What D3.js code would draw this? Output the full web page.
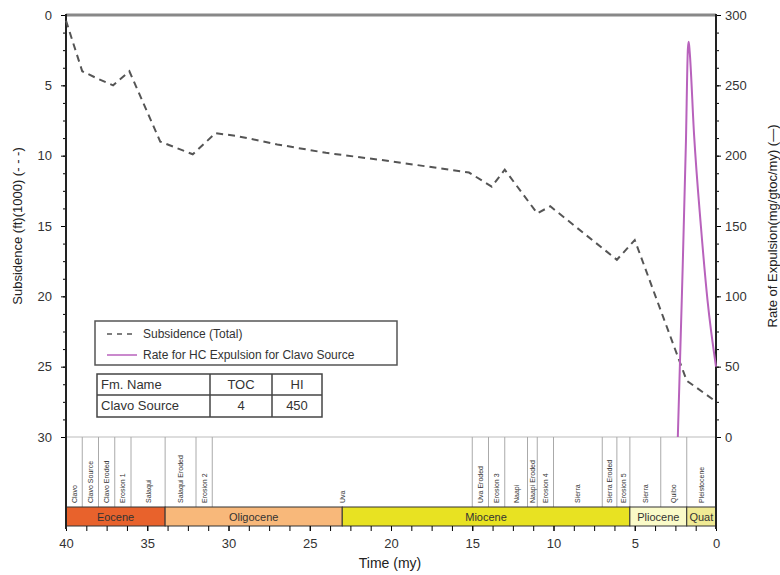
<!DOCTYPE html>
<html lang="en">
<head>
<meta charset="UTF-8">
<title>Burial history - Clavo Source</title>
<script src="https://cdn.jsdelivr.net/npm/d3@7"></script>
<style>
    body { margin: 0; background: #fff; }
    svg { font-family: "Liberation Sans", Arial, sans-serif; }
</style>
</head>
<body>
<svg width="780" height="575"></svg>
<script>
    // subsidence (total), [age my, depth ft x1000]
    const subsidence = [
        [40, 0.4], [39, 4.0], [38.1, 4.5], [37.1, 5.0], [36.1, 4.0], [34.2, 9.0],
        [32.2, 9.9], [30.8, 8.4], [29.5, 8.6], [27, 9.2], [24, 9.8], [20, 10.4],
        [15.2, 11.2], [13.8, 12.2], [13.0, 11.0], [11, 14.1], [10.2, 13.6],
        [6.1, 17.4], [5.0, 16.0], [1.8, 26.0], [0.1, 27.4]
    ];
    // rate of HC expulsion, [age my, mg/gtoc/my]
    const expulsion = [
        [2.35, 0], [2.1, 100], [1.85, 210], [1.73, 276], [1.68, 281], [1.62, 274],
        [1.35, 215], [0.93, 150], [0.52, 97], [0, 50]
    ];
    // formations, [start, end, name]
    const formations = [
        [40, 39, "Clavo"], [39, 38, "Clavo Source"], [38, 37, "Clavo Eroded"],
        [37, 36, "Erosion 1"], [36, 33.9, "Salaqui"], [33.9, 32, "Salaqui Eroded"],
        [32, 31, "Erosion 2"], [31, 15, "Uva"], [15, 14, "Uva Eroded"],
        [14, 13, "Erosion 3"], [13, 11.6, "Naapi"], [11.6, 11, "Naapi Eroded"],
        [11, 10, "Erosion 4"], [10, 7, "Sierra"], [7, 6.1, "Sierra Eroded"],
        [6.1, 5.3, "Erosion 5"], [5.3, 3.4, "Sierra"], [3.4, 1.8, "Quibo"],
        [1.8, 0, "Pleistocene"]
    ];
    // epochs, [start, end, name, colour]
    const epochs = [
        [40, 33.9, "Eocene", "#e8622c"], [33.9, 23, "Oligocene", "#f8b87a"],
        [23, 5.3, "Miocene", "#e8e222"], [5.3, 1.8, "Pliocene", "#fafac8"],
        [1.8, 0, "Quat", "#f0ea94"]
    ];
    const tableHead = ["Fm. Name", "TOC", "HI"];
    const tableRow = ["Clavo Source", "4", "450"];

    const svg = d3.select("svg");
    const pL = 66, pR = 716, pT = 15, pB = 437;
    const stripTop = 507, stripBot = 526;

    const x = d3.scaleLinear().domain([40, 0]).range([pL, pR]);
    const yL = d3.scaleLinear().domain([0, 30]).range([pT, pB]);
    const yR = d3.scaleLinear().domain([0, 300]).range([pB, pT]);

    // plot frame
    svg.append("line").attr("x1", pL).attr("x2", pR).attr("y1", pT).attr("y2", pT)
        .attr("stroke", "#888").attr("stroke-width", 3);
    svg.append("line").attr("x1", pL).attr("x2", pR).attr("y1", pB).attr("y2", pB)
        .attr("stroke", "#bbb").attr("stroke-width", 1);

    // formation strip
    const fm = svg.append("g");
    fm.selectAll("line").data(formations.slice(1)).join("line")
        .attr("x1", d => x(d[0])).attr("x2", d => x(d[0]))
        .attr("y1", pB).attr("y2", stripTop)
        .attr("stroke", "#aaa");
    fm.selectAll("text").data(formations).join("text")
        .attr("transform", d => `translate(${x((d[0] + d[1]) / 2) + 2.5},${stripTop - 4}) rotate(-90)`)
        .attr("font-size", 7).attr("fill", "#333")
        .text(d => d[2]);

    // epoch bar
    const ep = svg.append("g");
    ep.selectAll("rect").data(epochs).join("rect")
        .attr("x", d => x(d[0])).attr("width", d => x(d[1]) - x(d[0]))
        .attr("y", stripTop).attr("height", stripBot - stripTop)
        .attr("fill", d => d[3]).attr("stroke", "#333").attr("stroke-width", 1);
    ep.selectAll("text").data(epochs).join("text")
        .attr("x", d => x((d[0] + d[1]) / 2)).attr("y", (stripTop + stripBot) / 2 + 4)
        .attr("text-anchor", "middle").attr("font-size", 11).attr("fill", "#333")
        .text(d => d[2]);

    // x axis
    const xMinor = d3.range(0, 40.01, 1.25);
    svg.append("g").attr("transform", `translate(0,${stripBot})`)
        .call(d3.axisBottom(x).tickValues(xMinor).tickSize(5).tickFormat(""))
        .call(g => g.select(".domain").remove());
    svg.append("g").attr("transform", `translate(0,${stripBot})`)
        .call(d3.axisBottom(x).tickValues(d3.range(0, 41, 5)).tickSize(5).tickPadding(8))
        .call(g => g.select(".domain").remove())
        .call(g => g.selectAll("text").attr("font-size", 13).attr("fill", "#333"));

    // left axis
    svg.append("g").attr("transform", `translate(${pL},0)`)
        .call(d3.axisLeft(yL).tickValues(d3.range(0, 30.01, 1.25)).tickSize(3).tickFormat(""))
        .call(g => g.select(".domain").remove());
    svg.append("g").attr("transform", `translate(${pL},0)`)
        .call(d3.axisLeft(yL).tickValues(d3.range(0, 31, 5)).tickSize(5).tickPadding(9))
        .call(g => g.select(".domain").remove())
        .call(g => g.selectAll("text").attr("font-size", 13).attr("fill", "#333"));
    svg.append("line").attr("x1", pL).attr("x2", pL).attr("y1", pT - 1).attr("y2", stripBot + 3)
        .attr("stroke", "#222").attr("stroke-width", 2);

    // right axis
    svg.append("g").attr("transform", `translate(${pR},0)`)
        .call(d3.axisRight(yR).tickValues(d3.range(0, 300.1, 12.5)).tickSize(3).tickFormat(""))
        .call(g => g.select(".domain").remove());
    svg.append("g").attr("transform", `translate(${pR},0)`)
        .call(d3.axisRight(yR).tickValues(d3.range(0, 301, 50)).tickSize(5).tickPadding(4))
        .call(g => g.select(".domain").remove())
        .call(g => g.selectAll("text").attr("font-size", 13).attr("fill", "#333"));
    svg.append("line").attr("x1", pR).attr("x2", pR).attr("y1", pT - 1).attr("y2", stripBot + 3)
        .attr("stroke", "#222").attr("stroke-width", 2);

    // axis titles
    svg.append("text").attr("x", 390).attr("y", 568).attr("text-anchor", "middle")
        .attr("font-size", 14).attr("fill", "#222").text("Time (my)");
    svg.append("text").attr("transform", "translate(22,226) rotate(-90)").attr("text-anchor", "middle")
        .attr("font-size", 13).attr("fill", "#222").text("Subsidence (ft)(1000) (- - -)");
    svg.append("text").attr("transform", "translate(777,226) rotate(-90)").attr("text-anchor", "middle")
        .attr("font-size", 13).attr("fill", "#222").text("Rate of Expulsion(mg/gtoc/my) (\u2014)");

    // series
    const subLine = d3.line().x(d => x(d[0])).y(d => yL(d[1]));
    svg.append("path").attr("d", subLine(subsidence))
        .attr("fill", "none").attr("stroke", "#555").attr("stroke-width", 2)
        .attr("stroke-dasharray", "7,5");

    const expLine = d3.line().x(d => x(d[0])).y(d => yR(d[1])).curve(d3.curveMonotoneX);
    svg.append("path").attr("d", expLine(expulsion.slice().reverse()))
        .attr("fill", "none").attr("stroke", "#b862bc").attr("stroke-width", 2);

    // legend
    const lg = svg.append("g");
    lg.append("rect").attr("x", 95).attr("y", 321).attr("width", 302).attr("height", 44)
        .attr("fill", "#fff").attr("stroke", "#555").attr("stroke-width", 1.5);
    lg.append("line").attr("x1", 107).attr("x2", 137).attr("y1", 334).attr("y2", 334)
        .attr("stroke", "#555").attr("stroke-width", 1.5).attr("stroke-dasharray", "5,5");
    lg.append("line").attr("x1", 107).attr("x2", 137).attr("y1", 355).attr("y2", 355)
        .attr("stroke", "#b862bc").attr("stroke-width", 1.5);
    lg.append("text").attr("x", 143).attr("y", 338).attr("font-size", 12).attr("fill", "#333")
        .text("Subsidence (Total)");
    lg.append("text").attr("x", 143).attr("y", 359).attr("font-size", 12).attr("fill", "#333")
        .text("Rate for HC Expulsion for Clavo Source");

    // source table
    const cols = [97, 210, 272, 322];
    const rows = [374, 395, 417];
    const tb = svg.append("g");
    tb.append("rect").attr("x", cols[0]).attr("y", rows[0]).attr("width", cols[3] - cols[0])
        .attr("height", rows[2] - rows[0]).attr("fill", "#fff").attr("stroke", "#444").attr("stroke-width", 1.5);
    tb.append("line").attr("x1", cols[0]).attr("x2", cols[3]).attr("y1", rows[1]).attr("y2", rows[1])
        .attr("stroke", "#444").attr("stroke-width", 1.5);
    [cols[1], cols[2]].forEach(c => tb.append("line").attr("x1", c).attr("x2", c)
        .attr("y1", rows[0]).attr("y2", rows[2]).attr("stroke", "#444").attr("stroke-width", 1.5));
    [tableHead, tableRow].forEach((r, i) => {
        r.forEach((t, j) => {
            tb.append("text")
                .attr("x", j === 0 ? cols[0] + 4 : (cols[j] + cols[j + 1]) / 2)
                .attr("y", rows[i] + 15)
                .attr("text-anchor", j === 0 ? "start" : "middle")
                .attr("font-size", 13).attr("fill", "#333").text(t);
        });
    });
</script>
</body>
</html>
